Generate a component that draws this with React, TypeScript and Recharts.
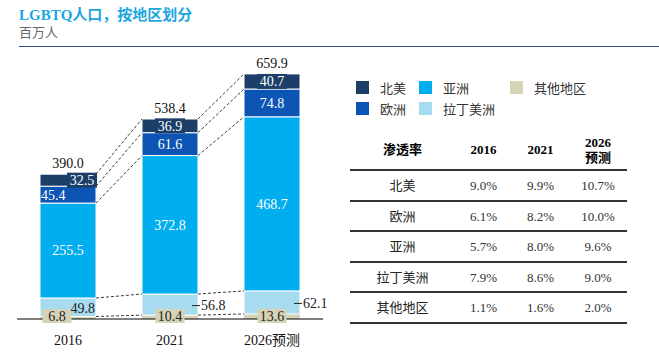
import { Bar, ComposedChart, LabelList, Line, XAxis, YAxis } from 'recharts';

const categories = ['2016', '2021', '2026预测'];
const northAmerica = [32.5, 36.9, 40.7];
const europe = [45.4, 61.6, 74.8];
const asia = [255.5, 372.8, 468.7];
const latinAmerica = [49.8, 56.8, 62.1];
const otherRegions = [6.8, 10.4, 13.6];
const totals = [390.0, 538.4, 659.9];

const tableRegions = ['北美', '欧洲', '亚洲', '拉丁美洲', '其他地区'];
const rate2016 = [9.0, 6.1, 5.7, 7.9, 1.1];
const rate2021 = [9.9, 8.2, 8.0, 8.6, 1.6];
const rate2026 = [10.7, 10.0, 9.6, 9.0, 2.0];

const COLORS = {
  na: '#1B3F68',
  eu: '#0C55B5',
  asia: '#00ADEE',
  latin: '#A7DCF0',
  other: '#D5D4B6',
};

// bottom to top
const series = [
  { key: 'other', name: '其他地区', color: COLORS.other, values: otherRegions },
  { key: 'latin', name: '拉丁美洲', color: COLORS.latin, values: latinAmerica },
  { key: 'asia', name: '亚洲', color: COLORS.asia, values: asia },
  { key: 'eu', name: '欧洲', color: COLORS.eu, values: europe },
  { key: 'na', name: '北美', color: COLORS.na, values: northAmerica },
];

const W = 659;
const H = 364;
const AXIS_H = 30;
const MARGIN = { top: 59, right: 336, bottom: 45 - AXIS_H, left: 17 };
const BAR_SIZE = 56;
const STEP = (W - MARGIN.left - MARGIN.right) / categories.length;
const HALF = BAR_SIZE / 2 / STEP;
const FONT = "'Liberation Serif', 'Noto Sans CJK SC', serif";

const chartData = categories.map((name, i) => {
  const row: Record<string, number | string> = { name, pos: i + 0.5 };
  series.forEach((s) => (row[s.key] = s.values[i]));
  return row;
});

// cumulative segment tops for each bar
const levels = categories.map((_, i) => {
  let acc = 0;
  return series.map((s) => (acc += s.values[i]));
});

const connectors: { pos: number; v: number }[][] = [];
for (let i = 0; i < categories.length - 1; i++) {
  for (let k = 0; k < series.length; k++) {
    connectors.push([
      { pos: i + 0.5 + HALF, v: levels[i][k] },
      { pos: i + 1.5 - HALF, v: levels[i + 1][k] },
    ]);
  }
}

const box = (p: any) => {
  const vb = p.viewBox && p.viewBox.width !== undefined ? p.viewBox : p;
  return { x: Number(vb.x), y: Number(vb.y), w: Number(vb.width), h: Number(vb.height) };
};

const NaLabel = (p: any) => {
  const b = box(p);
  const i = p.index;
  const cx = i === 0 ? b.x + b.w * 0.75 : b.x + b.w / 2;
  const cy = b.y + b.h / 2;
  return (
    <g>
      <rect x={cx - 15} y={cy - 7.5} width={30} height={15} fill={COLORS.na} />
      <text x={cx} y={cy} dy="0.35em" textAnchor="middle" fill="#fff" fontSize={14}>
        {northAmerica[i].toFixed(1)}
      </text>
    </g>
  );
};

const TotalLabel = (p: any) => {
  const b = box(p);
  return (
    <text x={b.x + b.w / 2} y={b.y - 11} dy="0.35em" textAnchor="middle" fill="#111" fontSize={14}>
      {totals[p.index].toFixed(1)}
    </text>
  );
};

const EuLabel = (p: any) => {
  const b = box(p);
  const i = p.index;
  const start = i === 0;
  return (
    <text
      x={start ? b.x + 1 : b.x + b.w / 2}
      y={b.y + b.h / 2}
      dy="0.35em"
      textAnchor={start ? 'start' : 'middle'}
      fill="#fff"
      fontSize={14}
    >
      {europe[i].toFixed(1)}
    </text>
  );
};

const AsiaLabel = (p: any) => {
  const b = box(p);
  return (
    <text x={b.x + b.w / 2} y={b.y + b.h / 2} dy="0.35em" textAnchor="middle" fill="#fff" fontSize={14}>
      {asia[p.index].toFixed(1)}
    </text>
  );
};

const LatinLabel = (p: any) => {
  const b = box(p);
  const i = p.index;
  const cy = b.y + b.h / 2 + 1;
  const right = b.x + b.w;
  const txt = latinAmerica[i].toFixed(1);
  if (i === 0) {
    return (
      <text x={right - 1} y={cy} dy="0.35em" textAnchor="end" fill="#222" fontSize={14}>
        {txt}
      </text>
    );
  }
  return (
    <g>
      <line x1={right - 6} x2={right + 2} y1={cy} y2={cy} stroke="#222" strokeWidth={1} />
      <text x={right + 3} y={cy} dy="0.35em" textAnchor="start" fill="#222" fontSize={14}>
        {txt}
      </text>
    </g>
  );
};

const OtherLabel = (p: any) => {
  const b = box(p);
  const i = p.index;
  const cx = i === 0 ? b.x + 17 : b.x + b.w / 2;
  const cy = b.y + b.h - 3;
  return (
    <g>
      <rect x={cx - 14.5} y={cy - 7} width={29} height={14} fill={COLORS.other} />
      <text x={cx} y={cy} dy="0.35em" textAnchor="middle" fill="#222" fontSize={14}>
        {otherRegions[i].toFixed(1)}
      </text>
    </g>
  );
};

const labelFor: Record<string, (p: any) => any> = {
  other: OtherLabel,
  latin: LatinLabel,
  asia: AsiaLabel,
  eu: EuLabel,
  na: NaLabel,
};

const legendRows = [
  [series[4], series[2], series[0]],
  [series[3], series[1]],
];
const legendCols = [0, 63, 154];

function LegendBox() {
  return (
    <div style={{ position: 'absolute', left: 356, top: 81, width: 260, height: 40 }}>
      {legendRows.map((row, r) =>
        row.map((s, c) => (
          <div
            key={s.key}
            style={{
              position: 'absolute',
              left: legendCols[c],
              top: r * 21,
              display: 'flex',
              alignItems: 'center',
              height: 13,
              whiteSpace: 'nowrap',
            }}
          >
            <span style={{ width: 13, height: 13, background: s.color, display: 'inline-block' }} />
            <span style={{ marginLeft: 11, fontSize: 13, color: '#333' }}>{s.name}</span>
          </div>
        )),
      )}
    </div>
  );
}

const fmt = (v: number) => v.toFixed(1) + '%';
const colW = [105, 57, 57, 58];
const lineColor = '#333';

function RateTable() {
  const cell = (w: number, content: any, bold = false, color = '#333') => (
    <div style={{ width: w, textAlign: 'center', fontWeight: bold ? 700 : 400, color, lineHeight: '15px' }}>
      {content}
    </div>
  );
  return (
    <div style={{ position: 'absolute', left: 350, top: 130, width: 277, fontSize: 13 }}>
      <div
        style={{
          display: 'flex',
          alignItems: 'center',
          height: 41.3,
          boxSizing: 'border-box',
          borderBottom: `2px solid ${lineColor}`,
        }}
      >
        {cell(colW[0], '渗透率', true, '#000')}
        {cell(colW[1], '2016', true, '#000')}
        {cell(colW[2], '2021', true, '#000')}
        {cell(
          colW[3],
          <>
            2026
            <br />
            预测
          </>,
          true,
          '#000',
        )}
      </div>
      {tableRegions.map((r, i) => (
        <div
          key={r}
          style={{
            display: 'flex',
            alignItems: 'center',
            height: 30.5,
            boxSizing: 'border-box',
            borderBottom: `2px solid ${lineColor}`,
          }}
        >
          {cell(colW[0], r, false, '#222')}
          {cell(colW[1], fmt(rate2016[i]))}
          {cell(colW[2], fmt(rate2021[i]))}
          {cell(colW[3], fmt(rate2026[i]))}
        </div>
      ))}
    </div>
  );
}

export default function App() {
  return (
    <div
      style={{
        position: 'absolute',
        left: 0,
        top: 0,
        width: W,
        height: H,
        background: '#fff',
        fontFamily: FONT,
        overflow: 'hidden',
      }}
    >
      <div
        style={{
          position: 'absolute',
          left: 19,
          top: 6,
          fontSize: 15,
          lineHeight: '18px',
          fontWeight: 700,
          color: '#1CA6E0',
        }}
      >
        LGBTQ人口，按地区划分
      </div>
      <div style={{ position: 'absolute', left: 19, top: 25, fontSize: 13, lineHeight: '16px', color: '#666' }}>
        百万人
      </div>
      <div style={{ position: 'absolute', left: 19, top: 46, width: W - 19, height: 1, background: '#2C4F8A' }} />

      <div style={{ position: 'absolute', left: 0, top: 0 }}>
        <ComposedChart width={W} height={H} data={chartData} margin={MARGIN}>
          <XAxis
            type="number"
            dataKey="pos"
            height={AXIS_H}
            domain={[0, categories.length]}
            ticks={categories.map((_, i) => i + 0.5)}
            tickFormatter={(v) => categories[Math.floor(Number(v))]}
            interval={0}
            axisLine={{ stroke: '#000' }}
            tickLine={false}
            tickMargin={10}
            tick={{ fill: '#111', fontSize: 14 }}
          />
          <XAxis xAxisId="conn" hide type="number" dataKey="pos" domain={[0, categories.length]} />
          <YAxis hide type="number" domain={[0, 700]} />
          {series.map((s) => (
            <Bar
              key={s.key}
              dataKey={s.key}
              name={s.name}
              stackId="total"
              fill={s.color}
              barSize={BAR_SIZE}
              stroke={s.key === 'other' ? 'none' : '#fff'}
              strokeWidth={1}
              isAnimationActive={false}
            >
              <LabelList dataKey={s.key} content={labelFor[s.key]} />
              {s.key === 'na' && <LabelList dataKey={s.key} content={TotalLabel} />}
            </Bar>
          ))}
          {connectors.map((d, i) => (
            <Line
              key={`c${i}`}
              xAxisId="conn"
              data={d}
              dataKey="v"
              type="linear"
              stroke="#3c3c3c"
              strokeWidth={1}
              strokeDasharray="3 2"
              dot={false}
              activeDot={false}
              legendType="none"
              isAnimationActive={false}
            />
          ))}
        </ComposedChart>
      </div>

      <LegendBox />
      <RateTable />
    </div>
  );
}
